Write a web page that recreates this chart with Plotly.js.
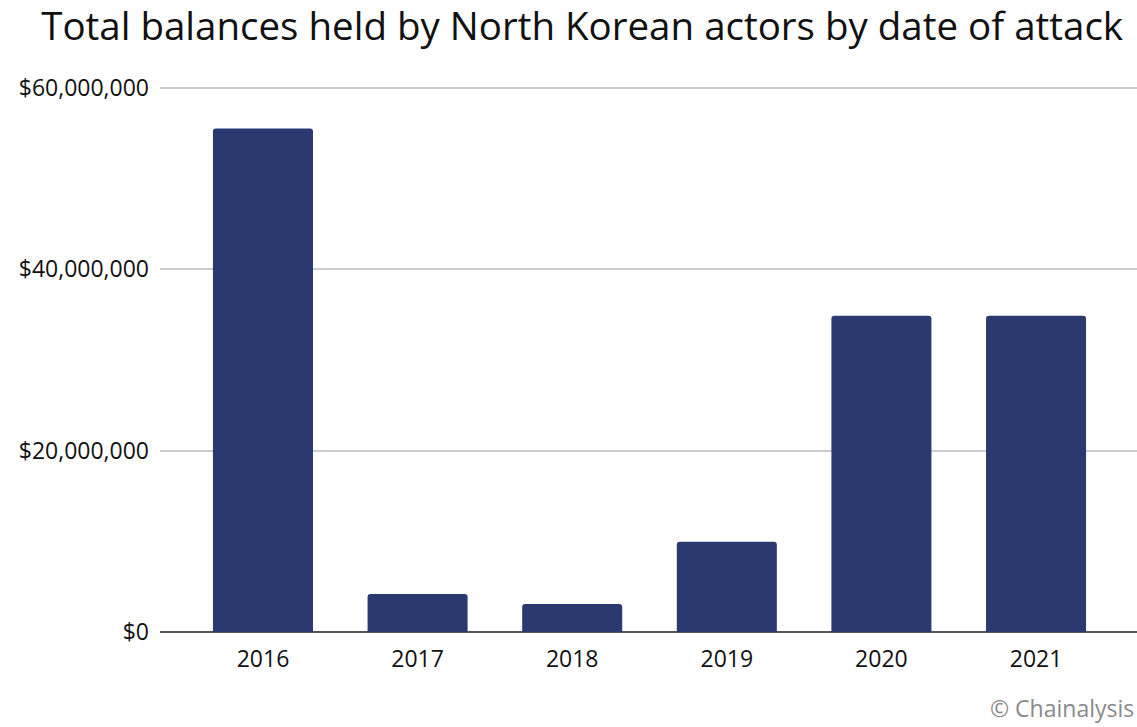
<!DOCTYPE html>
<html>
<head>
<meta charset="utf-8">
<script src="https://cdn.plot.ly/plotly-3.0.1.min.js"></script>
<style>
  html, body { margin: 0; padding: 0; background: #fff; }
  #chart { width: 1137px; height: 727px; }
</style>
</head>
<body>
<div id="chart"></div>
<script>
const years = ["2016", "2017", "2018", "2019", "2020", "2021"];
const balances = [55500000, 4200000, 3100000, 9950000, 34850000, 34850000];
const yTicks = [0, 20000000, 40000000, 60000000];
const yTickText = ["$0", "$20,000,000", "$40,000,000", "$60,000,000"];

const trace = {
    type: "bar",
    x: years,
    y: balances,
    marker: { color: "#2a3a70", cornerradius: 3 },
    width: 0.647,
    hoverinfo: "x+y"
};

Plotly.newPlot("chart", [trace], {
    width: 1137,
    height: 727,
    margin: { l: 160, r: 0, t: 85, b: 95 },
    paper_bgcolor: "#fff",
    plot_bgcolor: "#fff",
    font: { family: "'Open Sans', Lato, sans-serif", color: "#111" },
    title: {
        text: "Total balances held by North Korean actors by date of attack",
        font: { size: 38.5, color: "#111" },
        x: 0.512, xanchor: "center",
        y: 0.963, yanchor: "middle"
    },
    xaxis: {
        type: "category",
        range: [-0.666, 5.653],
        showgrid: false,
        showline: false,
        ticks: "",
        ticklabelstandoff: 11,
        tickfont: { size: 23, color: "#111" },
        automargin: false
    },
    yaxis: {
        range: [0, 60300000],
        tickmode: "array",
        tickvals: yTicks,
        ticktext: yTickText,
        gridcolor: "#cccccc",
        gridwidth: 1.5,
        zeroline: true,
        zerolinecolor: "#555555",
        zerolinewidth: 2,
        ticks: "",
        ticklabelstandoff: 10,
        tickfont: { size: 23, color: "#111" },
        automargin: false
    },
    annotations: [{
        text: "© Chainalysis",
        xref: "paper", yref: "paper",
        x: 0.998, y: -0.139,
        xanchor: "right", yanchor: "middle",
        showarrow: false,
        borderpad: 0,
        font: { size: 23, color: "#8a8a8a" }
    }],
    showlegend: false
}, { displayModeBar: false });
</script>
</body>
</html>
